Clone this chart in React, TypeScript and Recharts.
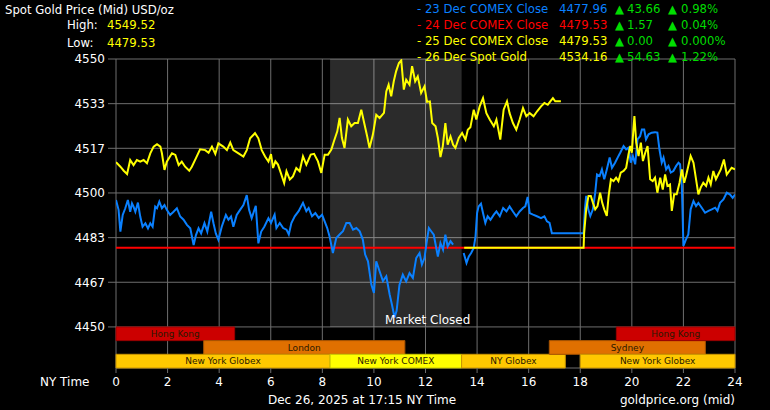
import React from "react";
import {
  LineChart,
  Line,
  XAxis,
  YAxis,
  CartesianGrid,
  ReferenceArea,
} from "recharts";

type Pt = [number, number | null];

const hourTicks = [0, 2, 4, 6, 8, 10, 12, 14, 16, 18, 20, 22, 24];
const priceTicks = [4450, 4466.67, 4483.33, 4500, 4516.67, 4533.33, 4550];
const priceFloor = 4434.67;

const highValue = "4549.52";
const lowValue = "4479.53";

const legendNames = ["23 Dec COMEX Close", "24 Dec COMEX Close", "25 Dec COMEX Close", "26 Dec Spot Gold"];
const legendValues = ["4477.96", "4479.53", "4479.53", "4534.16"];
const legendChanges = ["43.66", "1.57", "0.00", "54.63"];
const legendPercents = ["0.98%", "0.04%", "0.000%", "1.22%"];

const closedStart = 8.3;
const closedEnd = 13.4;

const sessionLabels = ["Hong Kong", "London", "New York Globex", "New York COMEX", "NY Globex", "Sydney", "New York Globex", "Hong Kong"];
const sessionStarts = [0, 3.4, 0, 8.3, 13.4, 16.8, 18, 19.4];
const sessionEnds = [4.6, 11.2, 8.3, 13.4, 17.42, 22.85, 24, 24];
const sessionRows = [0, 1, 2, 2, 2, 1, 2, 0];

// 24 Dec COMEX close, flat all day
const close24: Pt[] = [[0, 4479.53], [24, 4479.53]];

// 23 Dec (blue)
const dec23: Pt[] = [
  [0, 4497.4], [0.1, 4493.7], [0.17, 4485.6], [0.26, 4491.8], [0.36, 4494.3], [0.46, 4497.4],
  [0.55, 4493], [0.62, 4496.1], [0.68, 4494.9], [0.75, 4493], [0.85, 4496.4], [0.94, 4491.2],
  [1.03, 4487.4], [1.14, 4488.7], [1.24, 4486.8], [1.33, 4488.7], [1.42, 4487.4], [1.52, 4494.9],
  [1.59, 4494.3], [1.68, 4496.8], [1.78, 4494.3], [1.88, 4495.5], [1.97, 4493.7], [2.1, 4491.8],
  [2.23, 4493], [2.36, 4494.3], [2.49, 4491.2], [2.62, 4490], [2.75, 4488.1], [2.88, 4486.8],
  [3.01, 4480.6], [3.1, 4484.3], [3.2, 4486.8], [3.3, 4484.9], [3.43, 4488.7], [3.54, 4485.6],
  [3.69, 4493], [3.78, 4488.7], [3.87, 4484.9], [3.97, 4482.5], [4.1, 4487.4], [4.26, 4491.8],
  [4.36, 4490], [4.46, 4491.2], [4.55, 4487.4], [4.68, 4491.8], [4.81, 4493.7], [4.94, 4495.5],
  [5.07, 4499.2], [5.16, 4493.7], [5.26, 4490.6], [5.42, 4495.2], [5.52, 4481.2], [5.63, 4485.6],
  [5.75, 4487.4], [5.91, 4490.6], [6.01, 4488.8], [6.15, 4491.9], [6.22, 4486.9], [6.35, 4488.8],
  [6.48, 4486.9], [6.61, 4486.3], [6.7, 4484.5], [6.8, 4488.8], [6.93, 4491.3], [7.08, 4493.2],
  [7.25, 4496.3], [7.38, 4493.2], [7.47, 4494.4], [7.6, 4491.3], [7.73, 4492.5], [7.86, 4490.7],
  [7.99, 4491.9], [8.09, 4489.4], [8.19, 4486.9], [8.28, 4483.8], [8.41, 4477.6], [8.54, 4483.2],
  [8.67, 4484.5], [8.8, 4485.7], [8.93, 4488.8], [9.06, 4488.8], [9.19, 4486.3], [9.32, 4486.9],
  [9.45, 4485.7], [9.57, 4482.6], [9.66, 4477], [9.77, 4474.5], [9.9, 4465.8], [10, 4462.7],
  [10.09, 4474.5], [10.22, 4470.8], [10.35, 4467.1], [10.48, 4468.9], [10.61, 4462.1], [10.7, 4458.3],
  [10.8, 4453.5], [10.88, 4456], [10.99, 4465.7], [11.12, 4469.5], [11.25, 4467], [11.38, 4470.1],
  [11.51, 4468.3], [11.64, 4475.7], [11.77, 4477.6], [11.86, 4473.3], [11.96, 4475.7], [12.04, 4481.3],
  [12.13, 4486.9], [12.22, 4485.7], [12.32, 4484.4], [12.43, 4478.8], [12.48, 4476.3], [12.58, 4481.3],
  [12.68, 4478.8], [12.77, 4484.4], [12.86, 4480.1], [12.97, 4482], [13.07, 4480.7], [13.3, null],
  [13.48, 4477.6], [13.59, 4473.9], [13.68, 4476.3], [13.77, 4477.6], [13.87, 4479.5], [13.94, 4483.8],
  [14, 4492.5], [14.06, 4495], [14.15, 4496], [14.23, 4492.5], [14.32, 4488.8], [14.41, 4491.3],
  [14.52, 4490], [14.65, 4491.9], [14.75, 4493.1], [14.88, 4491.3], [15.01, 4494.4], [15.14, 4493.1],
  [15.26, 4495], [15.39, 4493.1], [15.52, 4491.3], [15.65, 4493.1], [15.78, 4494.4], [15.87, 4495],
  [15.96, 4498.5], [16.04, 4492.5], [16.17, 4491.9], [16.32, 4491.3], [16.48, 4490.6], [16.61, 4491.3],
  [16.71, 4489.4], [16.81, 4488.8], [16.9, 4485], [18.13, 4485], [18.18, 4493.9], [18.23, 4498.9],
  [18.31, 4493.9], [18.39, 4491.4], [18.49, 4493.9], [18.58, 4500.1], [18.65, 4506.9], [18.75, 4506.3],
  [18.84, 4508.8], [18.93, 4505.1], [19.03, 4508.8], [19.14, 4513.2], [19.23, 4509.4], [19.35, 4511.3],
  [19.45, 4513.2], [19.55, 4515], [19.68, 4517.5], [19.78, 4516.3], [19.87, 4516.9], [19.96, 4511.3],
  [20.04, 4513.8], [20.13, 4510.7], [20.22, 4520], [20.32, 4521.2], [20.39, 4523.7], [20.48, 4523.7],
  [20.55, 4520], [20.65, 4521.9], [20.77, 4522.5], [20.9, 4522.7], [20.99, 4522.5], [21.07, 4516.3],
  [21.16, 4511.3], [21.23, 4513.2], [21.33, 4508.8], [21.42, 4510.1], [21.51, 4507.6], [21.61, 4508.2],
  [21.72, 4510.1], [21.81, 4511.3], [21.87, 4510.7], [21.94, 4502.6], [22, 4480.2], [22.1, 4482.7],
  [22.19, 4484.5], [22.28, 4493.9], [22.39, 4497], [22.49, 4495.1], [22.58, 4496.3], [22.71, 4494.5],
  [22.84, 4492.6], [22.97, 4493.3], [23.1, 4493.9], [23.23, 4494.5], [23.32, 4493.3], [23.42, 4496.3],
  [23.55, 4497.6], [23.68, 4500.1], [23.81, 4499.4], [23.91, 4498.2], [24, 4499.4],
];

// 25 Dec (yellow) - holiday flat, then Globex reopens at 18:00
const dec25: Pt[] = [
  [13.5, 4479.53], [18.13, 4479.53], [18.15, 4485], [18.23, 4493.9], [18.32, 4498.9], [18.41, 4498.9],
  [18.49, 4496.4], [18.58, 4493.9], [18.67, 4495.1], [18.77, 4500.1], [18.85, 4496.4], [18.93, 4493.9],
  [19.03, 4491.4], [19.1, 4498.9], [19.19, 4505.1], [19.29, 4504.4], [19.39, 4505.7], [19.48, 4504.4],
  [19.57, 4507.6], [19.68, 4508.2], [19.78, 4509.4], [19.87, 4514.4], [19.94, 4517.5], [20, 4515],
  [20.06, 4523.7], [20.1, 4528.7], [20.17, 4518.8], [20.26, 4513.8], [20.35, 4518.8], [20.43, 4511.9],
  [20.52, 4515], [20.61, 4517.5], [20.71, 4505.1], [20.81, 4504.4], [20.9, 4505.7], [20.99, 4500.1],
  [21.1, 4505.7], [21.2, 4501.3], [21.29, 4506.9], [21.38, 4502.6], [21.48, 4503.2], [21.55, 4493.3],
  [21.64, 4499.5], [21.74, 4499.5], [21.85, 4503.8], [21.94, 4508.8], [22.03, 4503.8], [22.1, 4506.3],
  [22.19, 4510.1], [22.28, 4513.8], [22.39, 4511.3], [22.49, 4505.1], [22.58, 4499.5], [22.67, 4502],
  [22.77, 4503.8], [22.88, 4502.6], [22.97, 4505.7], [23.06, 4503.2], [23.16, 4508.2], [23.26, 4505.1],
  [23.35, 4506.9], [23.45, 4508.8], [23.57, 4512.5], [23.68, 4506.9], [23.78, 4508.2], [23.87, 4509.4],
  [24, 4508.8],
];

// 26 Dec spot (yellow), up to 17:15
const dec26: Pt[] = [
  [0, 4511.5], [0.04, 4511.1], [0.17, 4509.8], [0.3, 4508.3], [0.43, 4507.1], [0.55, 4512.3],
  [0.68, 4510.4], [0.81, 4512.3], [0.94, 4511.7], [1.07, 4512.3], [1.2, 4511.1], [1.33, 4514.8],
  [1.46, 4517.3], [1.59, 4518.2], [1.72, 4517.3], [1.78, 4514.8], [1.88, 4508.6], [1.97, 4511.7],
  [2.17, 4514.8], [2.3, 4514.2], [2.43, 4510.4], [2.55, 4511.7], [2.68, 4509.8], [2.84, 4508.3],
  [2.94, 4509.8], [3.1, 4513], [3.26, 4516.3], [3.46, 4516], [3.59, 4515], [3.72, 4517.3],
  [3.85, 4514.6], [3.97, 4518.5], [4.16, 4517.3], [4.3, 4516], [4.43, 4518.8], [4.55, 4516],
  [4.75, 4514.8], [4.94, 4513.6], [5.07, 4516], [5.2, 4520.4], [5.39, 4522.3], [5.52, 4520.4],
  [5.65, 4516], [5.78, 4513.6], [5.91, 4511.7], [6.01, 4514.5], [6.09, 4509.3], [6.18, 4511.8],
  [6.28, 4510.6], [6.39, 4507.5], [6.52, 4503.7], [6.61, 4508.1], [6.74, 4505], [6.86, 4506.2],
  [6.99, 4509.3], [7.12, 4508.1], [7.25, 4513.7], [7.38, 4510.6], [7.55, 4514.3], [7.68, 4514.6],
  [7.83, 4511.8], [7.96, 4507.5], [8.09, 4514.3], [8.22, 4514.3], [8.35, 4516.2], [8.45, 4519.3],
  [8.58, 4523], [8.67, 4528], [8.76, 4520.5], [8.86, 4516.8], [8.99, 4527.4], [9.12, 4524.9],
  [9.25, 4526.1], [9.38, 4526.1], [9.51, 4531.1], [9.61, 4526.7], [9.74, 4521.1], [9.83, 4516.8],
  [9.96, 4521.8], [10.09, 4529.2], [10.22, 4528], [10.39, 4529.9], [10.48, 4537.9], [10.57, 4540.4],
  [10.67, 4536.1], [10.77, 4541.7], [10.86, 4545.4], [10.97, 4548.5], [11.06, 4549.5], [11.16, 4538.6],
  [11.25, 4542.3], [11.38, 4540.4], [11.48, 4547.3], [11.6, 4541.7], [11.7, 4543.5], [11.83, 4537.3],
  [11.96, 4539.8], [12.06, 4534], [12.17, 4534.2], [12.26, 4526.1], [12.39, 4524.9], [12.48, 4520.5],
  [12.58, 4513.4], [12.67, 4517.4], [12.77, 4526.1], [12.86, 4518], [12.97, 4521.1], [13.07, 4518],
  [13.16, 4516.8], [13.29, 4520.5], [13.42, 4522.4], [13.55, 4519.9], [13.64, 4523.6], [13.74, 4524.5],
  [13.87, 4531.1], [13.97, 4527.4], [14.1, 4532.3], [14.23, 4535.4], [14.36, 4529.8], [14.49, 4527.4],
  [14.65, 4524.9], [14.75, 4527.4], [14.9, 4519.9], [15.03, 4531.1], [15.16, 4534.2], [15.26, 4529.8],
  [15.39, 4526.1], [15.52, 4523.6], [15.65, 4527.4], [15.78, 4531.7], [15.91, 4528.6], [16.04, 4529.8],
  [16.19, 4528.6], [16.32, 4530.4], [16.48, 4532.3], [16.61, 4533.6], [16.74, 4532.9], [16.84, 4534.2],
  [16.94, 4535.4], [17.03, 4534.2], [17.25, 4534.2],
];

const BLUE = "#0a80ff";
const RED = "#ff0000";
const YELLOW = "#ffff00";
const GREEN = "#00dd00";
const GRID = "#6e6e6e";

const sessionFill: Record<string, [string, string]> = {
  "Hong Kong": ["#cc0000", "#990000"],
  London: ["#e07000", "#a85400"],
  Sydney: ["#e07000", "#a85400"],
  "New York Globex": ["#ffc800", "#c89400"],
  "NY Globex": ["#ffc800", "#c89400"],
  "New York COMEX": ["#ffff00", "#c8c800"],
};

const legendColors = [BLUE, RED, YELLOW, YELLOW];

const toRows = (pts: Pt[]) => pts.map(([t, p]) => ({ t, p }));

const font = "'DejaVu Sans', Verdana, sans-serif";

const abs = (left: number, top: number, color: string, extra: React.CSSProperties = {}): React.CSSProperties => ({
  position: "absolute",
  left,
  top,
  color,
  fontSize: 11.7,
  lineHeight: "16px",
  whiteSpace: "nowrap",
  ...extra,
});

export default function App() {
  const rowH = (4450 - priceFloor) / 3;

  return (
    <div
      style={{
        position: "absolute",
        left: 0,
        top: 0,
        width: 770,
        height: 410,
        background: "#000",
        fontFamily: font,
        overflow: "hidden",
      }}
    >
      <LineChart width={770} height={410} margin={{ top: 59, right: 35, bottom: 0, left: 0 }}>
        <CartesianGrid stroke={GRID} />
        <XAxis
          type="number"
          dataKey="t"
          domain={[0, 24]}
          ticks={hourTicks}
          allowDataOverflow
          height={42}
          axisLine={false}
          tickLine={{ stroke: GRID }}
          tickSize={5}
          tickMargin={4}
          tick={{ fill: "#fff", fontSize: 12 }}
        />
        <YAxis
          type="number"
          domain={[priceFloor, 4550]}
          ticks={priceTicks}
          allowDataOverflow
          width={116}
          axisLine={false}
          tickLine={{ stroke: GRID }}
          tickSize={8}
          tickMargin={3}
          tick={{ fill: "#fff", fontSize: 12 }}
          tickFormatter={(v: number) => String(Math.round(v))}
        />
        <ReferenceArea
          x1={closedStart}
          x2={closedEnd}
          y1={4450}
          y2={4550}
          fill="#ffffff"
          fillOpacity={0.17}
          stroke="none"
        />
        {sessionLabels.map((name, i) => {
          const top = 4450 - sessionRows[i] * rowH;
          const [fill, stroke] = sessionFill[name];
          return (
            <ReferenceArea
              key={i}
              x1={sessionStarts[i]}
              x2={sessionEnds[i]}
              y1={top - rowH}
              y2={top}
              fill={fill}
              fillOpacity={1}
              stroke={stroke}
              strokeWidth={1}
              label={{ value: name, position: "center", fill: "#2a1a00", fontSize: 9 }}
            />
          );
        })}
        <Line data={toRows(close24)} dataKey="p" stroke={RED} strokeWidth={2} dot={false} isAnimationActive={false} />
        <Line data={toRows(dec23)} dataKey="p" stroke={BLUE} strokeWidth={2} dot={false} isAnimationActive={false} />
        <Line data={toRows(dec25)} dataKey="p" stroke={YELLOW} strokeWidth={2} dot={false} isAnimationActive={false} />
        <Line data={toRows(dec26)} dataKey="p" stroke={YELLOW} strokeWidth={2} dot={false} isAnimationActive={false} />
      </LineChart>

      <div style={abs(5, 2, "#fff")}>Spot Gold Price (Mid) USD/oz</div>
      <div style={abs(67, 17, "#fff")}>High:</div>
      <div style={abs(107, 17, YELLOW)}>{highValue}</div>
      <div style={abs(67, 35, "#fff")}>Low:</div>
      <div style={abs(107, 35, YELLOW)}>{lowValue}</div>

      {legendNames.map((name, i) => (
        <React.Fragment key={name}>
          <div style={abs(417, 1 + i * 16, legendColors[i])}>- {name}</div>
          <div style={abs(559, 1 + i * 16, legendColors[i])}>{legendValues[i]}</div>
          <div style={abs(615, 1 + i * 16, GREEN)}>▲</div>
          <div style={abs(627, 1 + i * 16, GREEN)}>{legendChanges[i]}</div>
          <div style={abs(668, 1 + i * 16, GREEN)}>▲</div>
          <div style={abs(681, 1 + i * 16, GREEN)}>{legendPercents[i]}</div>
        </React.Fragment>
      ))}

      <div style={abs(385, 312, "#fff", { fontSize: 12 })}>Market Closed</div>
      <div style={abs(40, 374, "#fff", { fontSize: 12 })}>NY Time</div>
      <div style={abs(268, 392, "#fff", { fontSize: 12 })}>Dec 26, 2025 at 17:15 NY Time</div>
      <div style={abs(0, 392, "#fff", { fontSize: 12, width: 735, textAlign: "right" })}>goldprice.org (mid)</div>
    </div>
  );
}
